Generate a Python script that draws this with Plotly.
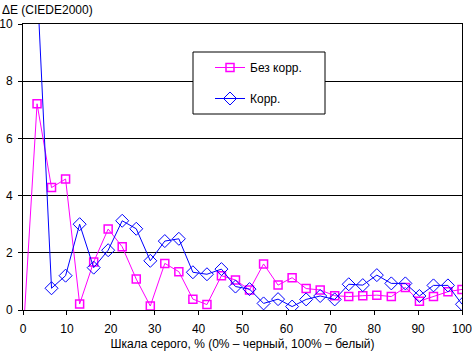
import plotly.graph_objects as go

# Gray-scale steps, %
x_steps = [0, 3.2, 6.5, 9.7, 12.9, 16.1, 19.4, 22.6, 25.8, 29.0, 32.3, 35.5, 38.7, 41.9,
           45.2, 48.4, 51.6, 54.8, 58.1, 61.3, 64.5, 67.7, 71.0, 74.2, 77.4, 80.6,
           83.9, 87.1, 90.3, 93.5, 96.8, 100]

# ΔE without correction
de_raw = [-1.0, 7.21, 4.28, 4.58, 0.21, 1.68, 2.83, 2.21, 1.08, 0.14, 1.63, 1.34, 0.38, 0.19,
          1.20, 1.05, 0.70, 1.61, 0.87, 1.13, 0.75, 0.70, 0.50, 0.47, 0.50, 0.52,
          0.47, 0.79, 0.31, 0.47, 0.64, 0.72]

# ΔE with correction
de_corr = [None, 11.5, 0.76, 1.20, 3.00, 1.48, 2.09, 3.12, 2.84, 1.72, 2.41, 2.49, 1.32, 1.25,
           1.43, 0.82, 0.73, 0.23, 0.38, 0.12, 0.37, 0.49, 0.37, 0.90, 0.87, 1.22,
           0.93, 0.93, 0.49, 0.86, 0.86, 0.20]

y_ticks = [0, 2, 4, 6, 8, 10]
x_ticks = [0, 10, 20, 30, 40, 50, 60, 70, 80, 90, 100]

names = ["Без корр.", "Корр."]
y_title = "ΔE (CIEDE2000)"
x_title = "Шкала серого, % (0% – черный, 100% – белый)"

FONT = "Liberation Sans, Arial, sans-serif"
W, H = 472, 353
L, R, T, B = 23, 10, 24, 43
pw = W - L - R
ph = H - T - B

fig = go.Figure()
fig.add_trace(go.Scatter(
    x=x_steps, y=de_raw, name=names[0], mode="lines+markers",
    line=dict(color="#FF00FF", width=1),
    marker=dict(symbol="square-open", size=8, color="#FF00FF", line=dict(width=1.5, color="#FF00FF")),
    legendgroup="a",
))
fig.add_trace(go.Scatter(
    x=x_steps, y=de_corr, name=names[1], mode="lines+markers",
    line=dict(color="#0000FF", width=1),
    marker=dict(symbol="diamond-open", size=10, color="#0000FF", line=dict(width=1, color="#0000FF")),
    legendgroup="b",
))

# legend box (pixel coords converted to paper)
bx0, bx1, by0, by1 = 193, 325, 52, 114
fig.add_shape(type="rect", xref="paper", yref="paper",
              x0=(bx0 - L) / pw, x1=(bx1 - L) / pw,
              y0=(H - B - by1) / ph, y1=(H - B - by0) / ph,
              line=dict(color="black", width=1), fillcolor="white", layer="above")

fig.add_annotation(text=y_title, xref="paper", yref="paper",
                   x=-L / pw, y=(H - B - 1) / ph, xanchor="left", yanchor="top",
                   showarrow=False, font=dict(family=FONT, size=12, color="black"))

fig.update_layout(
    width=W, height=H,
    margin=dict(l=L, r=R, t=T, b=B, pad=0, autoexpand=False),
    paper_bgcolor="white", plot_bgcolor="white",
    font=dict(family=FONT, size=12, color="black"),
    showlegend=True,
    legend=dict(x=(210 - L) / pw, y=(H - B - 53) / ph, xanchor="left", yanchor="top",
                bgcolor="rgba(0,0,0,0)", borderwidth=0,
                font=dict(family=FONT, size=12, color="black"),
                tracegroupgap=12, itemwidth=30),
    xaxis=dict(range=[0, 100], tickvals=x_ticks, ticks="outside", ticklen=4, tickcolor="black",
               showline=True, linecolor="black", linewidth=1, mirror=True,
               showgrid=False, zeroline=False, ticklabelstandoff=4, automargin=False,
               ticklabeloverflow="allow",
               title=dict(text=x_title, standoff=4, font=dict(family=FONT, size=12))),
    yaxis=dict(range=[0, 10], tickvals=y_ticks, ticks="outside", ticklen=4, tickcolor="black",
               showline=True, linecolor="black", linewidth=1, mirror=True,
               showgrid=True, gridcolor="black", gridwidth=1, zeroline=False,
               ticklabelstandoff=3, automargin=False, ticklabeloverflow="allow"),
)

fig.write_html("out.html")
